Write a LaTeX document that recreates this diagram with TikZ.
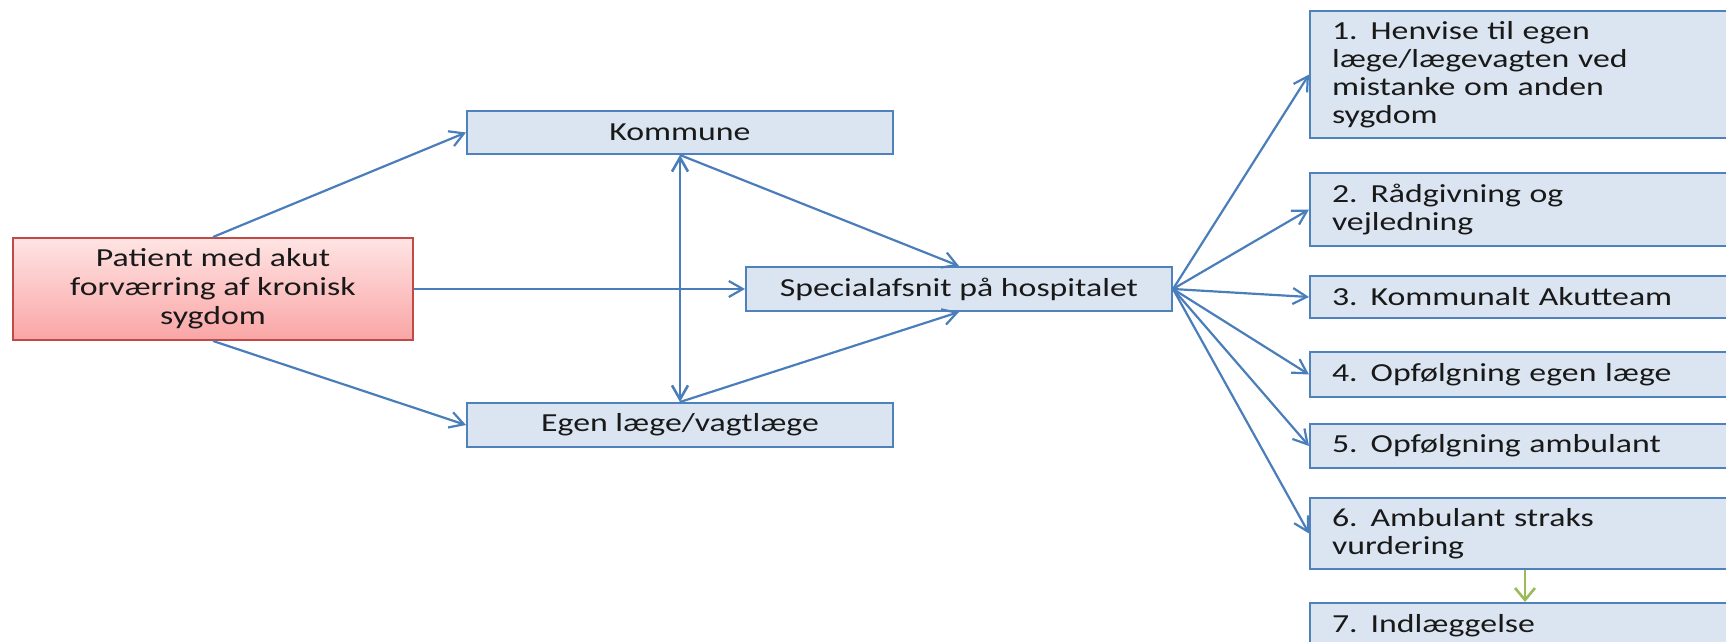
\documentclass[tikz,border=0pt]{standalone}
\usepackage{fontspec}
\setmainfont{Carlito}[FakeStretch=1.3]
\usetikzlibrary{arrows.meta}
\definecolor{boxfill}{RGB}{219,229,241}
\definecolor{boxline}{RGB}{79,129,189}
\definecolor{arr}{RGB}{74,126,187}
\definecolor{pinkline}{RGB}{190,75,72}
\definecolor{pinktop}{RGB}{255,228,228}
\definecolor{pinkbot}{RGB}{250,165,165}
\definecolor{grn}{RGB}{155,187,89}
\begin{document}
\begin{tikzpicture}[x=0.5pt,y=-0.5pt,
  every node/.style={font=\fontsize{13pt}{14pt}\selectfont, text=black!90},
  bluebox/.style={draw=boxline, fill=boxfill, line width=1pt, minimum width=213pt, minimum height=21.5pt, inner sep=0pt, align=center},
  optbox/.style={draw=boxline, fill=boxfill, line width=1pt, text width=193pt, align=left, inner xsep=11pt, inner ysep=0pt},
  patbox/.style={draw=pinkline, top color=pinktop, bottom color=pinkbot, line width=1pt, minimum width=200pt, minimum height=51pt, align=center, inner sep=0pt, font=\fontsize{13pt}{14.5pt}\selectfont},
  conn/.style={draw=arr, line width=1.1pt, -{Straight Barb[length=7pt,width=8pt]}},
  dconn/.style={draw=arr, line width=1.3pt, {Straight Barb[length=7pt,width=8pt]}-{Straight Barb[length=7pt,width=8pt]}},
  gconn/.style={draw=grn, line width=1.3pt, -{Straight Barb[length=6pt,width=10pt]}}
]
\useasboundingbox (0,0) rectangle (1726,642);
\clip (0,0) rectangle (1726,642);

\node[patbox] (pat) at (213,289) {Patient med akut\\forværring af kronisk\\sygdom};
\node[bluebox] (kom) at (680,132.5) {Kommune};
\node[bluebox, minimum height=22pt] (spec) at (959,289) {Specialafsnit på hospitalet};
\node[bluebox, minimum height=22pt] (egen) at (680,425) {Egen læge/vagtlæge};

\node[optbox, minimum height=63.5pt] (b1) at (1525,74.5) {1. Henvise til egen\\læge/lægevagten ved\\mistanke om anden\\sygdom};
\node[optbox, minimum height=36.5pt] (b2) at (1525,209.5) {2. Rådgivning og\\vejledning};
\node[optbox, minimum height=21pt] (b3) at (1525,297) {3. Kommunalt Akutteam};
\node[optbox, minimum height=22.5pt] (b4) at (1525,374.5) {4. Opfølgning egen læge};
\node[optbox, minimum height=22pt] (b5) at (1525,446) {5. Opfølgning ambulant};
\node[optbox, minimum height=35.5pt] (b6) at (1525,533.5) {6. Ambulant straks\\vurdering};
\node[optbox, minimum height=22.5pt] (b7) at (1525,625.5) {7. Indlæggelse};

\draw[conn] (pat.north) -- (kom.west);
\draw[conn] (pat.east) -- (spec.west);
\draw[conn] (pat.south) -- (egen.west);
\draw[dconn] (kom.south) -- (egen.north);
\draw[conn] (kom.south) -- (spec.north);
\draw[conn] (egen.north) -- (spec.south);
\foreach \b in {b1,b2,b3,b4,b5,b6} {
  \draw[conn] (spec.east) -- (\b.west);
}
\draw[gconn] (b6.south) -- (b7.north);
\end{tikzpicture}
\end{document}
